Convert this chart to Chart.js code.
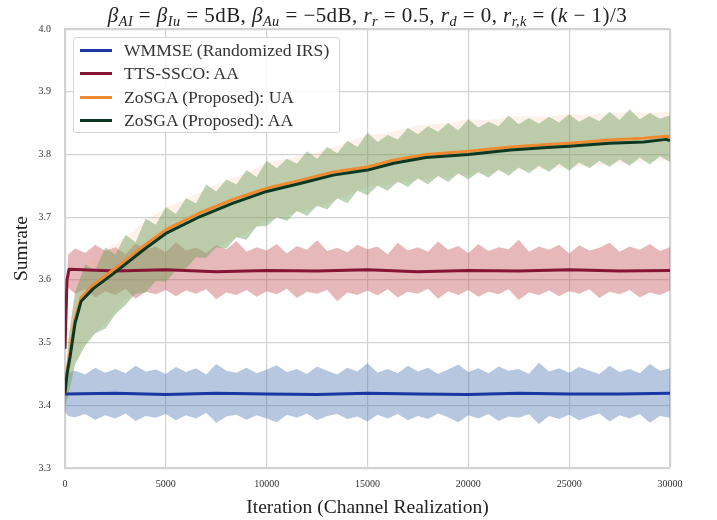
<!DOCTYPE html>
<html>
<head>
<meta charset="utf-8">
<script src="https://cdn.jsdelivr.net/npm/chart.js@4/dist/chart.umd.min.js"></script>
<style>
    body { margin: 0; background: #fff; }
    #wrap { position: relative; width: 717px; height: 520px; }
    #title {
        position: absolute; left: 0; width: 735px; top: 3px; text-align: center;
        font-family: 'Liberation Serif', serif; font-size: 21px; letter-spacing: 0.45px; color: #222; white-space: nowrap;
    }
    #title sub { font-size: 68%; vertical-align: -0.3em; line-height: 0; }
    #legend {
        position: absolute; left: 73px; top: 37px; width: 265px; height: 94px;
        border: 1px solid #d4d4d4; border-radius: 3px; background: rgba(255,255,255,0.85);
        font-family: 'Liberation Serif', serif; font-size: 17.6px; color: #333;
    }
    .row { position: absolute; left: 0; height: 23px; line-height: 23px; white-space: nowrap; }
    .sw { position: absolute; left: 6px; top: 10px; width: 32px; height: 3px; }
    .lab { position: absolute; left: 50px; top: 0; }
</style>
</head>
<body>
<div id="wrap">
    <canvas id="chart" width="717" height="520"></canvas>
    <div id="title"><i>β</i><sub><i>AI</i></sub> = <i>β</i><sub><i>Iu</i></sub> = 5dB, <i>β</i><sub><i>Au</i></sub> = −5dB, <i>r</i><sub><i>r</i></sub> = 0.5, <i>r</i><sub><i>d</i></sub> = 0, <i>r</i><sub><i>r,k</i></sub> = (<i>k</i> − 1)/3</div>
    <div id="legend"></div>
</div>
<script>
'use strict';

// series names + colours
const seriesNames = ['WMMSE (Randomized IRS)', 'TTS-SSCO: AA', 'ZoSGA (Proposed): UA', 'ZoSGA (Proposed): AA'];
const seriesColors = ['#1b37a2', '#861535', '#f18a2e', '#0b3822'];

const xTicks = [0, 5000, 10000, 15000, 20000, 25000, 30000];
const yTicks = [3.3, 3.4, 3.5, 3.6, 3.7, 3.8, 3.9, 4.0];

// mean curves
const flatIters = [0, 2500, 5000, 7500, 10000, 12500, 15000, 17500, 20000, 22500, 25000, 27500, 30000];
const wmmseMean = [3.418, 3.419, 3.417, 3.419, 3.418, 3.417, 3.419, 3.418, 3.417, 3.419, 3.418, 3.418, 3.419];

const ttsIters = [0, 100, 200, 2500, 5000, 7500, 10000, 12500, 15000, 17500, 20000, 22500, 25000, 27500, 30000];
const ttsMean = [3.49, 3.60, 3.617, 3.614, 3.616, 3.613, 3.615, 3.614, 3.616, 3.613, 3.615, 3.614, 3.616, 3.614, 3.615];

const zoIters = [0, 100, 250, 500, 800, 1400, 2400, 3900, 5000, 6700, 8300, 10000, 11700, 13300, 15000, 16300, 17900, 20000, 22100, 23900, 25000, 27000, 28700, 29800, 30000];
const zoUA = [3.42, 3.455, 3.485, 3.538, 3.572, 3.592, 3.616, 3.654, 3.680, 3.707, 3.728, 3.746, 3.759, 3.772, 3.780, 3.791, 3.800, 3.805, 3.812, 3.816, 3.818, 3.823, 3.826, 3.829, 3.828];
const zoAA = [3.42, 3.45, 3.477, 3.531, 3.566, 3.586, 3.610, 3.648, 3.674, 3.701, 3.722, 3.741, 3.754, 3.767, 3.775, 3.786, 3.795, 3.800, 3.807, 3.811, 3.813, 3.818, 3.820, 3.824, 3.822];

// spread of the raw per-iteration values (upper / lower edges of the shaded bands)
const bandIters = [0, 150, 500, 1000, 1500, 2000, 2500, 3000, 3500, 4000, 4500, 5000, 5500, 6000, 6500, 7000, 7500, 8000, 8500, 9000, 9500,
    10000, 10500, 11000, 11500, 12000, 12500, 13000, 13500, 14000, 14500, 15000, 15500, 16000, 16500, 17000, 17500, 18000, 18500, 19000, 19500,
    20000, 20500, 21000, 21500, 22000, 22500, 23000, 23500, 24000, 24500, 25000, 25500, 26000, 26500, 27000, 27500, 28000, 28500, 29000, 29500, 30000];

const wmmseHi = [3.440, 3.452, 3.455, 3.449, 3.460, 3.452, 3.458, 3.451, 3.463, 3.454, 3.457,
    3.450, 3.461, 3.453, 3.459, 3.449, 3.466, 3.455, 3.452, 3.460, 3.451,
    3.457, 3.464, 3.453, 3.458, 3.450, 3.462, 3.455, 3.449, 3.460, 3.454,
    3.467, 3.452, 3.458, 3.451, 3.463, 3.454, 3.460, 3.450, 3.457, 3.465,
    3.453, 3.459, 3.451, 3.462, 3.455, 3.458, 3.450, 3.468, 3.454, 3.459,
    3.452, 3.461, 3.455, 3.450, 3.463, 3.453, 3.458, 3.451, 3.466, 3.455, 3.459];
const wmmseLo = [3.390, 3.383, 3.381, 3.386, 3.377, 3.384, 3.379, 3.387, 3.375, 3.383, 3.380,
    3.386, 3.376, 3.384, 3.379, 3.388, 3.372, 3.382, 3.385, 3.377, 3.384,
    3.379, 3.373, 3.385, 3.380, 3.387, 3.376, 3.383, 3.386, 3.378, 3.382,
    3.374, 3.385, 3.379, 3.386, 3.376, 3.383, 3.378, 3.387, 3.381, 3.373,
    3.384, 3.379, 3.386, 3.375, 3.382, 3.380, 3.386, 3.370, 3.383, 3.378,
    3.385, 3.376, 3.382, 3.387, 3.374, 3.384, 3.379, 3.386, 3.372, 3.383, 3.380];

const ttsHi = [3.49, 3.640,
    3.650, 3.643, 3.656, 3.646, 3.652, 3.641, 3.658, 3.648, 3.653, 3.644,
    3.660, 3.647, 3.651, 3.643, 3.655, 3.649, 3.662, 3.645, 3.652, 3.647,
    3.657, 3.642, 3.654, 3.648, 3.663, 3.646, 3.651, 3.644, 3.656, 3.649,
    3.653, 3.641, 3.659, 3.647, 3.652, 3.645, 3.661, 3.648, 3.654, 3.643,
    3.657, 3.646, 3.652, 3.649, 3.664, 3.645, 3.653, 3.648, 3.656, 3.642,
    3.655, 3.647, 3.651, 3.659, 3.645, 3.653, 3.648, 3.657, 3.646, 3.652];
const ttsLo = [3.49, 3.588,
    3.578, 3.585, 3.572, 3.582, 3.576, 3.586, 3.570, 3.581, 3.577, 3.584,
    3.574, 3.583, 3.578, 3.585, 3.569, 3.580, 3.576, 3.584, 3.573, 3.582,
    3.577, 3.586, 3.571, 3.581, 3.578, 3.584, 3.566, 3.580, 3.576, 3.583,
    3.575, 3.585, 3.572, 3.581, 3.578, 3.586, 3.570, 3.582, 3.576, 3.584,
    3.573, 3.581, 3.577, 3.585, 3.568, 3.580, 3.576, 3.583, 3.574, 3.582,
    3.578, 3.585, 3.571, 3.581, 3.577, 3.584, 3.572, 3.580, 3.576, 3.583];

const zoAAHi = [3.42, 3.50,
    3.580, 3.625, 3.615, 3.652, 3.640, 3.672, 3.660, 3.698, 3.688, 3.716,
    3.705, 3.730, 3.722, 3.752, 3.741, 3.760, 3.752, 3.775, 3.764, 3.790,
    3.778, 3.793, 3.785, 3.805, 3.793, 3.812, 3.802, 3.822, 3.812, 3.835,
    3.820, 3.831, 3.824, 3.842, 3.832, 3.845, 3.836, 3.850, 3.838, 3.856,
    3.843, 3.852, 3.845, 3.862, 3.848, 3.858, 3.849, 3.860, 3.851, 3.864,
    3.852, 3.861, 3.853, 3.868, 3.855, 3.872, 3.856, 3.866, 3.857, 3.862];
const zoAALo = [3.40, 3.415,
    3.465, 3.495, 3.515, 3.522, 3.545, 3.560, 3.578, 3.580, 3.598, 3.597,
    3.615, 3.618, 3.636, 3.635, 3.652, 3.650, 3.668, 3.664, 3.685, 3.686,
    3.700, 3.694, 3.710, 3.702, 3.718, 3.712, 3.730, 3.722, 3.742, 3.735,
    3.750, 3.742, 3.757, 3.748, 3.762, 3.752, 3.766, 3.756, 3.770, 3.760,
    3.772, 3.763, 3.776, 3.766, 3.779, 3.770, 3.782, 3.772, 3.785, 3.774,
    3.787, 3.778, 3.790, 3.780, 3.792, 3.782, 3.795, 3.784, 3.797, 3.788];

// the UA spread sits almost on top of the AA one, only its upper tips peek out
const uaBandIters = [0, 250, 500, 1000, 2000, 3000, 4000, 5000, 6000, 7500, 9000, 10000, 11000, 12500, 14000, 15000, 16000, 17500, 19000, 20000, 21000, 22500, 24000, 25000, 26000, 27500, 29000, 30000];
const zoUAHi = [3.42, 3.54, 3.58, 3.62, 3.648, 3.668, 3.694, 3.715, 3.729, 3.752, 3.770, 3.787, 3.793, 3.803, 3.819, 3.831, 3.834, 3.846, 3.850, 3.856, 3.855, 3.861, 3.860, 3.864, 3.863, 3.867, 3.866, 3.868];
const zoUALo = [3.40, 3.43, 3.47, 3.50, 3.53, 3.568, 3.588, 3.605, 3.625, 3.652, 3.675, 3.695, 3.703, 3.716, 3.735, 3.748, 3.752, 3.759, 3.764, 3.767, 3.770, 3.775, 3.777, 3.780, 3.782, 3.786, 3.789, 3.791];


function pts(xs, ys) {
    return ys.map((y, i) => ({ x: xs[i], y: y }));
}

function edge(xs, ys, order) {
    return { data: pts(xs, ys), borderWidth: 0, borderColor: 'transparent', pointRadius: 0, fill: false, order: order };
}

function band(xs, ys, colour, order) {
    return { data: pts(xs, ys), borderWidth: 0, borderColor: 'transparent', pointRadius: 0, fill: '-1', backgroundColor: colour, order: order };
}

function meanLine(xs, ys, colour, order) {
    return { data: pts(xs, ys), borderColor: colour, borderWidth: 3, pointRadius: 0, fill: false, order: order, borderJoinStyle: 'round' };
}

const datasets = [
    edge(bandIters, wmmseLo, 20),
    band(bandIters, wmmseHi, 'rgba(76,114,176,0.4)', 20),
    edge(bandIters, ttsLo, 19),
    band(bandIters, ttsHi, 'rgba(196,78,82,0.4)', 19),
    edge(uaBandIters, zoUALo, 18),
    band(uaBandIters, zoUAHi, 'rgba(245,160,110,0.15)', 18),
    edge(bandIters, zoAALo, 17),
    band(bandIters, zoAAHi, 'rgba(110,160,95,0.46)', 17),
    meanLine(flatIters, wmmseMean, seriesColors[0], 4),
    meanLine(ttsIters, ttsMean, seriesColors[1], 3),
    meanLine(zoIters, zoUA, seriesColors[2], 2),
    meanLine(zoIters, zoAA, seriesColors[3], 1),
];

const gridColour = '#d2d2d2';
const serif = "'Liberation Serif', serif";

new Chart(document.getElementById('chart'), {
    type: 'line',
    data: { datasets: datasets },
    options: {
        responsive: false,
        animation: false,
        layout: { padding: { top: 29, right: 47, bottom: 0, left: 0 } },
        plugins: { legend: { display: false }, tooltip: { enabled: false } },
        scales: {
            x: {
                type: 'linear', min: 0, max: 30000,
                afterBuildTicks: s => { s.ticks = xTicks.map(v => ({ value: v })); },
                afterFit: s => { s.height = 52; },
                grid: { color: gridColour, lineWidth: c => (c.index === xTicks.length - 1 ? 2.2 : 1.2), drawTicks: false },
                border: { color: gridColour, width: 2.2 },
                ticks: { padding: 10, color: '#333', font: { family: serif, size: 10 }, maxRotation: 0, callback: v => String(v) },
                title: { display: true, text: 'Iteration (Channel Realization)', color: '#222', font: { family: serif, size: 19.5 }, padding: { top: 2, bottom: 0 } }
            },
            y: {
                min: 3.3, max: 4.0,
                afterBuildTicks: s => { s.ticks = yTicks.map(v => ({ value: v })); },
                afterFit: s => { s.width = 65; },
                grid: { color: gridColour, lineWidth: c => (c.index === yTicks.length - 1 ? 2.2 : 1.2), drawTicks: false },
                border: { color: gridColour, width: 2.2 },
                ticks: { padding: 14, color: '#333', font: { family: serif, size: 10 }, callback: v => v.toFixed(1) },
                title: { display: true, text: 'Sumrate', color: '#222', font: { family: serif, size: 19.5 }, padding: { top: 10, bottom: 0 } }
            }
        }
    }
});

// legend box inside the plot, top-left
const legend = document.getElementById('legend');
seriesNames.forEach((name, i) => {
    const row = document.createElement('div');
    row.className = 'row';
    row.style.top = (1 + i * 23.3) + 'px';
    row.innerHTML = '<span class="sw" style="background:' + seriesColors[i] + '"></span><span class="lab">' + name + '</span>';
    legend.appendChild(row);
});
</script>
</body>
</html>
